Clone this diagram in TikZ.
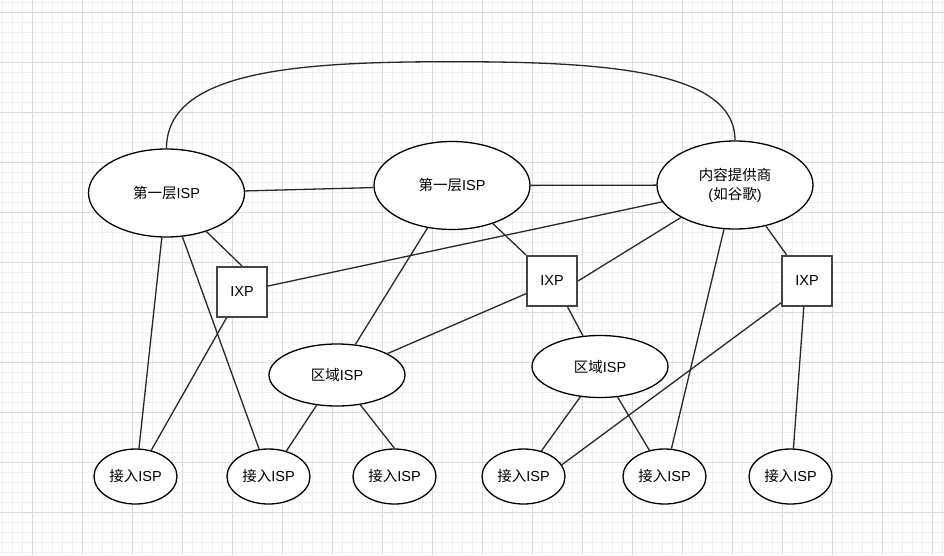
\documentclass[tikz,border=0pt]{standalone}
\usepackage{fontspec}
\setmainfont{Liberation Sans}
\newfontfamily\cjk{Noto Sans CJK SC}
\usetikzlibrary{shapes.geometric}
\definecolor{gridminor}{RGB}{240,240,240}
\definecolor{gridmajor}{RGB}{218,218,218}
\definecolor{edgec}{RGB}{40,40,40}
\definecolor{boxc}{RGB}{68,68,68}
\tikzset{
  ell/.style={ellipse, draw=black, line width=1.3pt, fill=white, inner sep=0pt, font=\fontsize{14.5}{19}\selectfont},
  tierell/.style={ell, minimum width=156pt, minimum height=88pt},
  regell/.style={ell, minimum width=136pt, minimum height=62pt},
  accell/.style={ell, minimum width=83pt, minimum height=55pt},
  ixpbox/.style={rectangle, draw=boxc, line width=2pt, fill=white, minimum size=50pt, inner sep=0pt, font=\fontsize{14.5}{19}\selectfont},
  link/.style={draw=edgec, line width=1.3pt},
  gminor/.style={draw=gridminor, line width=1pt},
  gmajor/.style={draw=gridmajor, line width=1pt}
}
\begin{document}
\begin{tikzpicture}[x=1pt,y=-1pt]
\useasboundingbox (0,0) rectangle (944,555);
\fill[white] (0,0) rectangle (944,555);
% grid
\foreach \x in {2,12,...,942} \draw[gminor] (\x,0) -- (\x,555);
\foreach \y in {2,12,...,552} \draw[gminor] (0,\y) -- (944,\y);
\foreach \x in {32,82,...,932} \draw[gmajor] (\x,0) -- (\x,555);
\foreach \y in {12,62,...,512} \draw[gmajor] (0,\y) -- (944,\y);

% nodes
\node[tierell] (t1a) at (166.5,193) {{\cjk 第一层}ISP};
\node[tierell] (t1b) at (452,185.5) {{\cjk 第一层}ISP};
\node[tierell, align=center] (cp) at (735,185) {{\cjk 内容提供商}\\({\cjk 如谷歌})};
\node[ixpbox] (ixp1) at (242,292) {IXP};
\node[ixpbox] (ixp2) at (552,281) {IXP};
\node[ixpbox] (ixp3) at (807,281) {IXP};
\node[regell] (r1) at (337,375) {{\cjk 区域}ISP};
\node[regell] (r2) at (600,366.5) {{\cjk 区域}ISP};
\node[accell] (a1) at (135.5,476.5) {{\cjk 接入}ISP};
\node[accell] (a2) at (268.5,476.5) {{\cjk 接入}ISP};
\node[accell] (a3) at (394.5,476.5) {{\cjk 接入}ISP};
\node[accell] (a4) at (523.5,476.5) {{\cjk 接入}ISP};
\node[accell] (a5) at (664.5,476.5) {{\cjk 接入}ISP};
\node[accell] (a6) at (790.5,476.5) {{\cjk 接入}ISP};

% connectors
\draw[link] (t1a.north) .. controls (166.5,70) and (300,61.7) .. (452,61.7)
  .. controls (604,61.7) and (735,70) .. (cp.north);
\draw[link] (t1a) -- (t1b);
\draw[link] (t1b) -- (cp);
\draw[link] (t1a.-44) -- (ixp1.north);
\draw[link] (t1a.-96) -- (a1.83);
\draw[link] (t1a.-70.6) -- (a2.109.7);
\draw[link] (ixp1.-121) -- (a1.59.7);
\draw[link] (ixp1.13.5) -- (cp.-167.8);
\draw[link] (t1b.-120.5) -- (r1.59);
\draw[link] (t1b.-43.2) -- (ixp2.north west);
\draw[link] (ixp2.east) -- (cp.-149);
\draw[link] (ixp2.-154.4) -- (r1.23.7);
\draw[link] (ixp2.-59) -- (r2.119);
\draw[link] (cp.-53.8) -- (ixp3.128.7);
\draw[link] (cp.-104) -- (a5.76.7);
\draw[link] (ixp3.-140) -- (a4.17);
\draw[link] (ixp3.-97) -- (a6.84.8);
\draw[link] (r1.-124) -- (a2.55.5);
\draw[link] (r1.-52) -- (a3.north);
\draw[link] (r2.-123.7) -- (a4.55);
\draw[link] (r2.-60.3) -- (a5.120.3);
\end{tikzpicture}
\end{document}
